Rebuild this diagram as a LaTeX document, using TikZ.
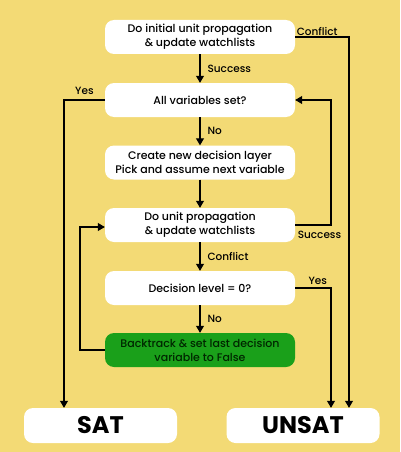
\documentclass[tikz,border=0pt]{standalone}
\usepackage{fontspec}
\setmainfont{Poppins}
\newfontfamily\medFont{Poppins Medium}
\usetikzlibrary{arrows.meta,positioning}

\definecolor{bgYellow}{RGB}{243,218,117}
\definecolor{stepGreen}{RGB}{26,160,26}

\tikzset{
	stepBox/.style = {draw=none, fill=white, rounded corners=9pt, minimum width=190pt,
		minimum height=34pt, align=center, font=\medFont\fontsize{11}{14}\selectfont, inner sep=2pt},
	greenBox/.style = {stepBox, fill=stepGreen, text=black!85!green},
	endBox/.style = {draw=none, fill=white, rounded corners=9pt, minimum width=153pt,
		minimum height=35pt, font=\fontsize{24}{26}\selectfont\bfseries},
	flow/.style = {line width=1.1pt, -{Triangle[length=7pt, width=8pt]}},
	tag/.style = {font=\medFont\fontsize{10.5}{12}\selectfont, inner sep=1pt}
}

\begin{document}
\begin{tikzpicture}[x=1pt, y=-1pt]
	\fill[bgYellow] (0,0) rectangle (400,452);
	\useasboundingbox (0,0) rectangle (400,452);

	\node[stepBox] (initProp) at (200,37) {Do initial unit propagation\\\& update watchlists};
	\node[stepBox] (allSet) at (200,100) {All variables set?};
	\node[stepBox] (newLayer) at (200,162.5) {Create new decision layer\\Pick and assume next variable};
	\node[stepBox] (unitProp) at (200,225) {Do unit propagation\\\& update watchlists};
	\node[stepBox] (levelZero) at (200,288) {Decision level = 0?};
	\node[greenBox] (backTrack) at (200,350) {Backtrack \& set last decision\\variable to False};

	\node[endBox] (satBox) at (100.5,425.5) {SAT};
	\node[endBox] (unsatBox) at (303,425.5) {UNSAT};

	% main column
	\draw[flow] (initProp) -- node[tag, right=6pt] {Success} (allSet);
	\draw[flow] (allSet) -- node[tag, right=6pt] {No} (newLayer);
	\draw[flow] (newLayer) -- (unitProp);
	\draw[flow] (unitProp) -- node[tag, right=6pt] {Conflict} (levelZero);
	\draw[flow] (levelZero) -- node[tag, right=6pt] {No} (backTrack);

	% side loops
	\draw[flow] (allSet.west) -- node[tag, above=4pt] {Yes} (64,100) -- (satBox.north -| 64,0);
	\draw[flow] (initProp.east) -- node[tag, above right, pos=0] {Conflict} (349,37) -- (unsatBox.north -| 349,0);
	\draw[flow] (unitProp.east) -- node[tag, below right=5pt and 1pt, pos=0] {Success} (331,225) -- (331,100) -- (allSet.east);
	\draw[flow] (levelZero.east) -- node[tag, above=2pt, pos=0.63] {Yes} (331,288) -- (unsatBox.north -| 331,0);
	\draw[flow] (backTrack.west) -- (80,350) -- (80,227) -- (unitProp.west |- 80,227);
\end{tikzpicture}
\end{document}
